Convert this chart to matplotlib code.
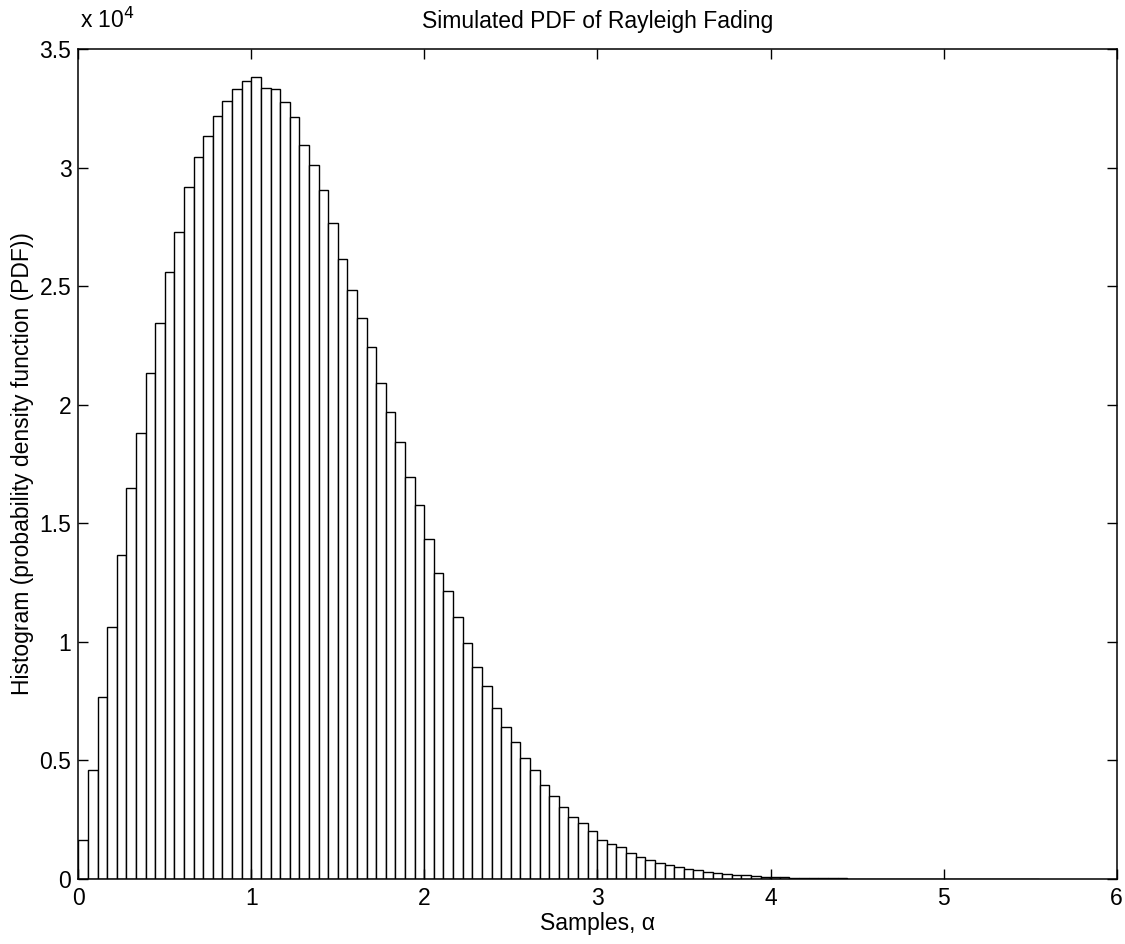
import numpy as np
import matplotlib
matplotlib.use("Agg")
import matplotlib.pyplot as plt
from matplotlib.ticker import FuncFormatter

plt.rcParams['font.family'] = ['Liberation Sans', 'DejaVu Sans']

# histogram range (samples min .. max) and counts per bin, 100 bins
hist_lo, hist_hi = 0.0, 5.553
counts = [
    1630, 4600, 7660, 10630, 13680, 16480, 18800, 21330, 23460, 25590,
    27300, 29200, 30460, 31350, 32170, 32810, 33330, 33670, 33800, 33350,
    33300, 32770, 32120, 30940, 30110, 29060, 27680, 26140, 24840, 23670,
    22450, 20930, 19700, 18440, 16940, 15750, 14330, 12920, 12150, 11050,
    9940, 8940, 8140, 7210, 6420, 5770, 5090, 4580, 3980, 3510,
    3050, 2630, 2370, 2040, 1660, 1490, 1360, 1100, 940, 810,
    660, 600, 520, 440, 370, 310, 260, 220, 180, 150,
    120, 100, 85, 70, 58, 48, 40, 32, 26, 21,
    17, 13, 10, 8, 6, 5, 4, 3, 2, 2,
    1, 1, 1, 1, 0, 1, 0, 0, 0, 1,
]
x_ticks = [0, 1, 2, 3, 4, 5, 6]
y_ticks = [0, 5000, 10000, 15000, 20000, 25000, 30000, 35000]

edges = np.linspace(hist_lo, hist_hi, len(counts) + 1)
width = edges[1] - edges[0]

fig = plt.figure(figsize=(11.25, 9.44), dpi=100)
ax = fig.add_axes([0.0696, 0.0689, 0.923, 0.8792])

ax.bar(edges[:-1], counts, width=width, align='edge',
       facecolor='white', edgecolor='black', linewidth=1.0)

fs = 16.5
ax.set_xlim(0, 6)
ax.set_ylim(0, 35000)
ax.set_xticks(x_ticks)
ax.set_yticks(y_ticks)
ax.yaxis.set_major_formatter(FuncFormatter(lambda v, p: '%g' % (v / 1e4)))
ax.tick_params(direction='in', length=7, width=1, top=True, right=True,
               labelsize=fs)
ax.tick_params(axis='x', pad=6)
ax.tick_params(axis='y', pad=5)
for s in ax.spines.values():
    s.set_linewidth(1.1)

ax.text(0.002, 1.0253, 'x 10$^{4}$', transform=ax.transAxes,
        fontsize=fs, ha='left', va='baseline')
ax.set_title('Simulated PDF of Rayleigh Fading', fontsize=fs, pad=15)
ax.set_xlabel('Samples, \u03b1', fontsize=fs, labelpad=1)
ax.set_ylabel('Histogram (probability density function (PDF))', fontsize=fs,
              labelpad=4)

fig.savefig('out.png', dpi=100)
